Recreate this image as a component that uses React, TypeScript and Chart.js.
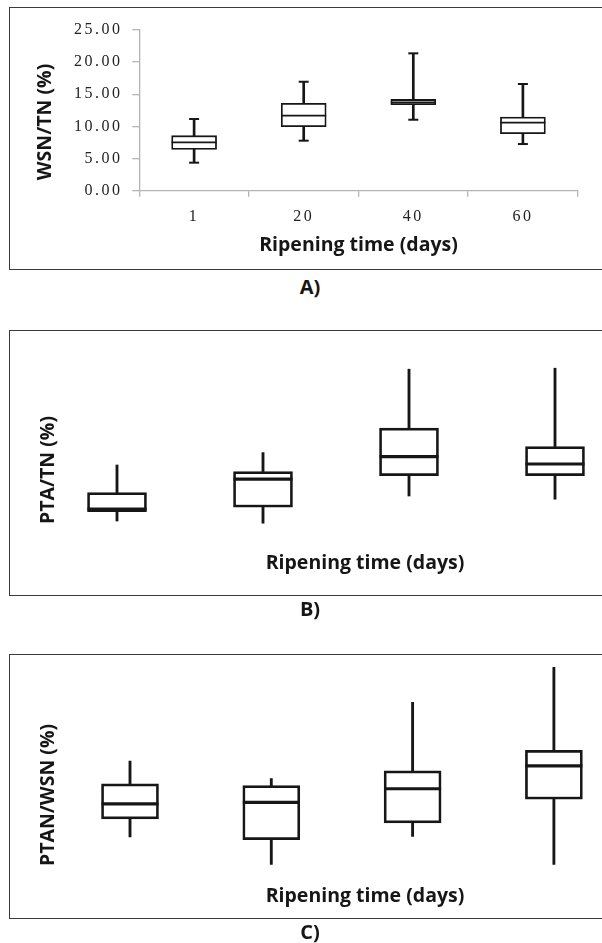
import React, { useEffect, useRef } from 'react';
import { Chart, registerables } from 'chart.js';

Chart.register(...registerables);

// ---------- data ----------
const categories = ['1', '20', '40', '60'];

// Panel A: WSN/TN (%)
const wsnMin = [4.36, 7.78, 11.04, 7.26];
const wsnQ1 = [6.43, 9.96, 13.38, 8.87];
const wsnMedian = [7.53, 11.67, 13.75, 10.58];
const wsnQ3 = [8.56, 13.6, 14.2, 11.46];
const wsnMax = [11.15, 16.95, 21.37, 16.6];
const wsnTickValues = [0, 5, 10, 15, 20, 25];
const wsnTickLabels = ['0.00', '5.00', '10.00', '15.00', '20.00', '25.00'];

// Panel B: PTA/TN (%) (no printed scale; values on an arbitrary 0-10 scale)
const ptaMin = [0.95, 0.84, 2.2, 2.04];
const ptaQ1 = [1.42, 1.64, 3.22, 3.22];
const ptaMedian = [1.55, 3.04, 4.17, 3.8];
const ptaQ3 = [2.37, 3.42, 5.59, 4.67];
const ptaMax = [3.75, 4.37, 8.54, 8.59];

// Panel C: PTAN/WSN (%) (no printed scale; values on an arbitrary 0-10 scale)
const ptanMin = [1.97, 0.71, 2.0, 0.71];
const ptanQ1 = [2.8, 1.85, 2.62, 3.7];
const ptanMedian = [3.49, 3.56, 4.18, 5.23];
const ptanQ3 = [4.4, 4.32, 5.0, 5.94];
const ptanMax = [5.45, 4.65, 8.14, 9.74];

// ---------- styling ----------
const ink = '#161616';
const axisGray = '#b4b4b4';
const sansFamily = "'Open Sans', 'Noto Sans', sans-serif";
const serifFamily = "'Liberation Serif', 'Times New Roman', serif";
const titleSize = 19.5;
const tickSize = 16;

type Series = { min: number[]; q1: number[]; median: number[]; q3: number[]; max: number[] };
type Style = { box: number; border: number; whisker: number; median: number; cap?: number; capWidth?: number };

function seriesData(values: any[], linear: boolean) {
  return linear ? values.map((v, i) => ({ x: i, y: v })) : values;
}

function buildDatasets(s: Series, st: Style, linear: boolean) {
  const box = s.q1.map((v, i) => [v, s.q3[i]]);
  const up = s.q3.map((v, i) => [v, s.max[i]]);
  const down = s.min.map((v, i) => [v, s.q1[i]]);
  const pointLine = (label: string, data: number[], radius: number, width: number) => ({
    type: 'line',
    label,
    data: seriesData(data, linear),
    showLine: false,
    pointStyle: 'line',
    pointRadius: radius,
    pointHoverRadius: radius,
    pointBorderWidth: width,
    pointHoverBorderWidth: width,
    pointBorderColor: ink,
    pointBackgroundColor: ink,
    borderColor: ink,
    clip: false,
  });
  const ds: any[] = [pointLine('Median', s.median, st.box / 2, st.median)];
  if (st.cap) {
    ds.push(pointLine('Max', s.max, st.capWidth! / 2, st.cap));
    ds.push(pointLine('Min', s.min, st.capWidth! / 2, st.cap));
  }
  ds.push(
    {
      type: 'bar',
      label: 'Q1-Q3',
      data: seriesData(box, linear),
      backgroundColor: '#ffffff',
      borderColor: ink,
      borderWidth: st.border,
      borderSkipped: false,
      barThickness: st.box,
      grouped: false,
    },
    {
      type: 'bar',
      label: 'Upper whisker',
      data: seriesData(up, linear),
      backgroundColor: ink,
      borderWidth: 0,
      barThickness: st.whisker,
      grouped: false,
    },
    {
      type: 'bar',
      label: 'Lower whisker',
      data: seriesData(down, linear),
      backgroundColor: ink,
      borderWidth: 0,
      barThickness: st.whisker,
      grouped: false,
    }
  );
  return ds;
}

function decorPlugin(yTitle: string, cx: number, cy: number, spacing: number | null) {
  return {
    id: 'decor',
    afterDatasetsDraw(chart: any) {
      if (spacing != null) chart.ctx.letterSpacing = spacing + 'px';
    },
    afterDraw(chart: any) {
      const ctx = chart.ctx;
      ctx.letterSpacing = '0px';
      ctx.save();
      ctx.translate(cx, cy);
      ctx.rotate(-Math.PI / 2);
      ctx.font = `bold ${titleSize}px ${sansFamily}`;
      ctx.fillStyle = ink;
      ctx.textAlign = 'center';
      ctx.textBaseline = 'middle';
      ctx.fillText(yTitle, 0, 0);
      ctx.restore();
    },
  };
}

const common = {
  responsive: false,
  animation: false as const,
  events: [] as any[],
  plugins: { legend: { display: false }, tooltip: { enabled: false } },
};

const xTitle = {
  display: true,
  text: 'Ripening time (days)',
  color: ink,
  font: { family: sansFamily, weight: 'bold' as const, size: titleSize },
  padding: { top: 0, bottom: 0 },
};

function configA(): any {
  const s: Series = { min: wsnMin, q1: wsnQ1, median: wsnMedian, q3: wsnQ3, max: wsnMax };
  return {
    type: 'bar',
    data: {
      labels: categories,
      datasets: buildDatasets(s, { box: 45, border: 1.8, whisker: 2, median: 1.8, cap: 2, capWidth: 10 }, false),
    },
    options: {
      ...common,
      layout: { padding: { left: 0, right: 12.3, top: 30, bottom: 13.3 } },
      scales: {
        x: {
          type: 'category',
          offset: true,
          grid: { display: true, offset: true, drawOnChartArea: false, drawTicks: true, tickLength: 6, color: axisGray, lineWidth: 1.3 },
          border: { display: true, color: axisGray, width: 1.3 },
          ticks: { font: { family: serifFamily, size: tickSize }, color: '#222', padding: 10.5, z: 1, maxRotation: 0, autoSkip: false },
          title: xTitle,
          afterFit: (sc: any) => { sc.height = 66; },
        },
        y: {
          min: 0,
          max: 25,
          afterBuildTicks: (sc: any) => { sc.ticks = wsnTickValues.map((v) => ({ value: v })); },
          grid: { display: true, drawOnChartArea: false, drawTicks: true, tickLength: 7, color: axisGray, lineWidth: 1.3 },
          border: { display: true, color: axisGray, width: 1.3 },
          ticks: {
            font: { family: serifFamily, size: tickSize },
            color: '#222',
            padding: 9.8,
            z: 1,
            callback: (v: any) => wsnTickLabels[wsnTickValues.indexOf(Number(v))],
          },
          afterFit: (sc: any) => { sc.width = 139.3; },
        },
      },
    },
    plugins: [decorPlugin('WSN/TN (%)', 45, 122, 2.5)],
  };
}

function configHidden(s: Series, yTitle: string, opt: {
  left: number; spacing: number; canvasW: number; canvasH: number; top: number; bottom: number; titleY: number; titleCx: number; titleCy: number;
}): any {
  const right = 365 * 2 - opt.left; // centre the x title at page x = 365
  const axisBottom = opt.titleY + (titleSize * 1.2) / 2;
  return {
    type: 'bar',
    data: {
      labels: categories,
      datasets: buildDatasets(s, { box: 59, border: 2.7, whisker: 2.2, median: 3.2 }, true),
    },
    options: {
      ...common,
      layout: { padding: { left: opt.left, right: opt.canvasW - right, top: opt.top, bottom: opt.canvasH - axisBottom } },
      scales: {
        x: {
          type: 'linear',
          offset: false,
          min: -0.5,
          max: -0.5 + (right - opt.left) / opt.spacing,
          grid: { display: false },
          border: { display: false },
          ticks: { display: false },
          title: xTitle,
          afterFit: (sc: any) => { sc.height = axisBottom - opt.bottom; },
        },
        y: { display: false, min: 0, max: 10 },
      },
    },
    plugins: [decorPlugin(yTitle, opt.titleCx, opt.titleCy, null)],
  };
}

function configB(): any {
  const s: Series = { min: ptaMin, q1: ptaQ1, median: ptaMedian, q3: ptaQ3, max: ptaMax };
  return configHidden(s, 'PTA/TN (%)', {
    left: 44, spacing: 146, canvasW: 760, canvasH: 300, top: 40, bottom: 240, titleY: 263, titleCx: 48, titleCy: 170,
  });
}

function configC(): any {
  const s: Series = { min: ptanMin, q1: ptanQ1, median: ptanMedian, q3: ptanQ3, max: ptanMax };
  const c = configHidden(s, 'PTAN/WSN (%)', {
    left: 59.35, spacing: 141.3, canvasW: 760, canvasH: 300, top: 30, bottom: 250, titleY: 266, titleCx: 48, titleCy: 165,
  });
  c.data.datasets.forEach((d: any) => {
    if (d.label === 'Q1-Q3') d.barThickness = 57;
    if (d.label === 'Median') { d.pointRadius = 28.5; d.pointHoverRadius = 28.5; }
  });
  return c;
}

const borderStyle = (top: number, height: number): React.CSSProperties => ({
  position: 'absolute',
  left: 8.5,
  top,
  width: 720,
  height,
  border: '1.5px solid #3a3a3a',
  boxSizing: 'border-box',
});

const labelStyle = (centerY: number): React.CSSProperties => ({
  position: 'absolute',
  left: 0,
  width: 620,
  top: centerY - 10.5,
  height: 20,
  lineHeight: '20px',
  textAlign: 'center',
  fontFamily: sansFamily,
  fontWeight: 700,
  fontSize: 20,
  color: ink,
});

export default function App() {
  const aRef = useRef<HTMLCanvasElement>(null);
  const bRef = useRef<HTMLCanvasElement>(null);
  const cRef = useRef<HTMLCanvasElement>(null);

  useEffect(() => {
    const charts = [
      new Chart(aRef.current!, configA()),
      new Chart(bRef.current!, configB()),
      new Chart(cRef.current!, configC()),
    ];
    return () => charts.forEach((c) => c.destroy());
  }, []);

  return (
    <div style={{ position: 'absolute', left: 0, top: 0, width: 602, height: 943, overflow: 'hidden', background: '#fff' }}>
      <div style={borderStyle(6.5, 263.5)} />
      <div style={borderStyle(330, 265.5)} />
      <div style={borderStyle(654.3, 264.5)} />
      <canvas ref={aRef} width={602} height={270} style={{ position: 'absolute', left: 0, top: 0, width: 602, height: 270 }} />
      <canvas ref={bRef} width={760} height={300} style={{ position: 'absolute', left: 0, top: 300, width: 760, height: 300 }} />
      <canvas ref={cRef} width={760} height={300} style={{ position: 'absolute', left: 0, top: 630, width: 760, height: 300 }} />
      <div style={labelStyle(287)}>A)</div>
      <div style={labelStyle(609)}>B)</div>
      <div style={labelStyle(932)}>C)</div>
    </div>
  );
}
